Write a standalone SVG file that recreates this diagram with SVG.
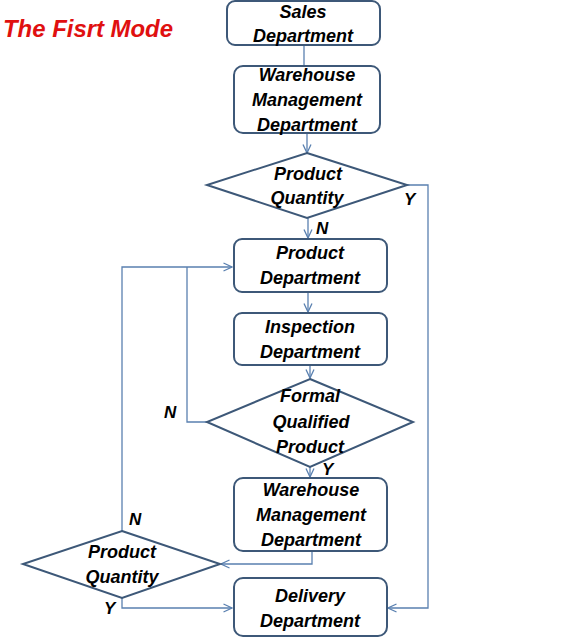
<svg xmlns="http://www.w3.org/2000/svg" width="585" height="638" viewBox="0 0 585 638">
<style>
.box{fill:#fff;stroke:#3d5878;stroke-width:2}
.t{font-family:"Liberation Sans",Arial,sans-serif;font-weight:bold;font-style:italic;font-size:18px;fill:#000;text-anchor:middle}
.lbl{font-family:"Liberation Sans",Arial,sans-serif;font-weight:bold;font-style:italic;font-size:17px;fill:#000}
.c{fill:none;stroke:#5a80b0;stroke-width:1.3}
</style>
<defs>
<marker id="a" viewBox="0 0 10 10" refX="9.5" refY="5" markerWidth="10" markerHeight="10" markerUnits="userSpaceOnUse" orient="auto">
<path d="M1,1 L9.5,5 L1,9" fill="none" stroke="#5a80b0" stroke-width="1.3"/>
</marker>
</defs>
<rect width="585" height="638" fill="#fff"/>
<text x="3" y="37" font-family="'Liberation Sans',Arial,sans-serif" font-weight="bold" font-style="italic" font-size="24" fill="#e01010" textLength="170" lengthAdjust="spacingAndGlyphs">The Fisrt Mode</text>

<g id="connectors">
<line class="c" x1="304" y1="45" x2="304" y2="66"/>
<line class="c" x1="307" y1="133" x2="307" y2="153" marker-end="url(#a)"/>
<polyline class="c" points="407,185 428,185 428,608 388,608" marker-end="url(#a)"/>
<line class="c" x1="308" y1="218" x2="308" y2="238" marker-end="url(#a)"/>
<line class="c" x1="308" y1="292" x2="308" y2="312" marker-end="url(#a)"/>
<line class="c" x1="310" y1="365" x2="310" y2="378" marker-end="url(#a)"/>
<polyline class="c" points="207,422 187,422 187,267"/>
<polyline class="c" points="122,531 122,267 232,267" marker-end="url(#a)"/>
<line class="c" x1="310" y1="467" x2="310" y2="477" marker-end="url(#a)"/>
<polyline class="c" points="312,551 312,564 221,564" marker-end="url(#a)"/>
<polyline class="c" points="122,598 122,608 232,608" marker-end="url(#a)"/>
</g>

<g id="sales">
<rect class="box" x="227" y="1" width="153" height="44" rx="8"/>
<text class="t" x="303" y="18">Sales</text>
<text class="t" x="303" y="42">Department</text>
</g>
<g id="warehouse1">
<rect class="box" x="234" y="66" width="146" height="67" rx="9"/>
<text class="t" x="307" y="81">Warehouse</text>
<text class="t" x="307" y="106">Management</text>
<text class="t" x="307" y="131">Department</text>
</g>
<g id="quantity1">
<polygon class="box" points="307,153 407,185 307,218 207,185"/>
<text class="t" x="308" y="180">Product</text>
<text class="t" x="307" y="204">Quantity</text>
</g>
<text class="lbl" x="404" y="205">Y</text>
<text class="lbl" x="316" y="234">N</text>
<g id="product">
<rect class="box" x="234" y="239" width="153" height="53" rx="8"/>
<text class="t" x="310" y="259">Product</text>
<text class="t" x="310" y="284">Department</text>
</g>
<g id="inspection">
<rect class="box" x="234" y="313" width="153" height="52" rx="8"/>
<text class="t" x="310" y="333">Inspection</text>
<text class="t" x="310" y="358">Department</text>
</g>
<g id="qualified">
<polygon class="box" points="310,379 413,422 310,467 207,422"/>
<text class="t" x="310" y="402">Formal</text>
<text class="t" x="311" y="428">Qualified</text>
<text class="t" x="310" y="453">Product</text>
</g>
<text class="lbl" x="164" y="418">N</text>
<text class="lbl" x="322" y="475">Y</text>
<g id="warehouse2">
<rect class="box" x="234" y="478" width="153" height="73" rx="9"/>
<text class="t" x="311" y="496">Warehouse</text>
<text class="t" x="311" y="521">Management</text>
<text class="t" x="311" y="546">Department</text>
</g>
<g id="quantity2">
<polygon class="box" points="122,531 220,564 122,598 23,564"/>
<text class="t" x="122" y="558">Product</text>
<text class="t" x="122" y="583">Quantity</text>
</g>
<text class="lbl" x="129" y="525">N</text>
<text class="lbl" x="104" y="614">Y</text>
<g id="delivery">
<rect class="box" x="234" y="578" width="153" height="58" rx="9"/>
<text class="t" x="310" y="602">Delivery</text>
<text class="t" x="310" y="627">Department</text>
</g>
</svg>
